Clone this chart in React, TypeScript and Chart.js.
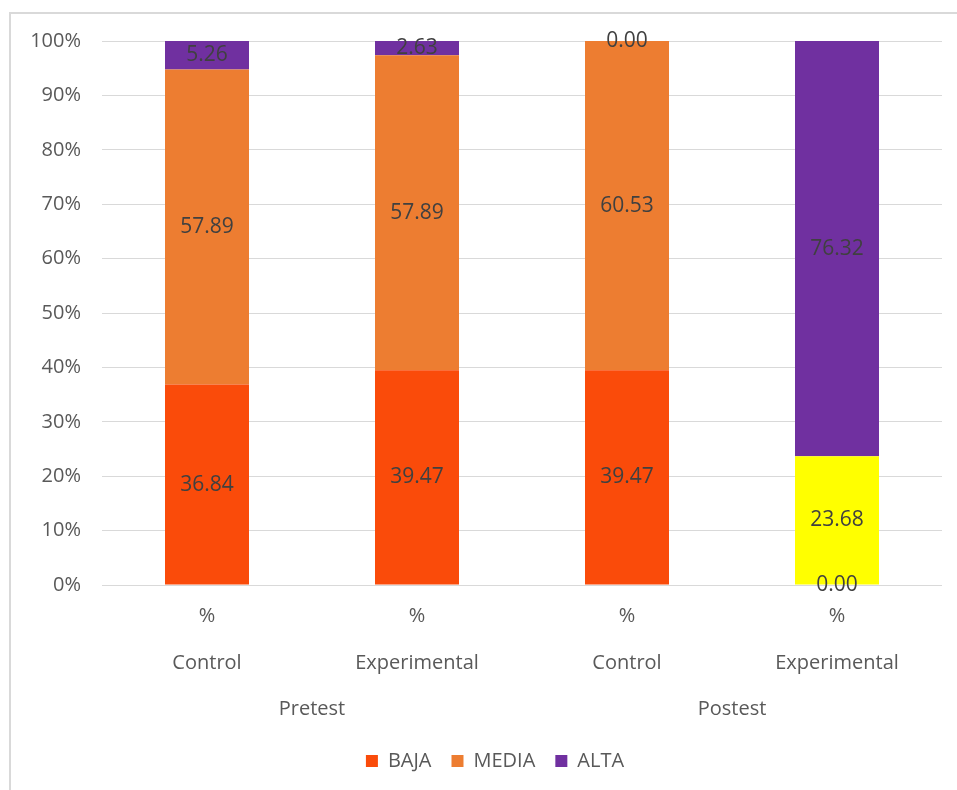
import React, { useEffect, useRef } from "react";
import { Chart, registerables } from "chart.js";

Chart.register(...registerables);

const categories = ["Control", "Experimental", "Control", "Experimental"];
const unitLabels = ["%", "%", "%", "%"];
const groups = ["Pretest", "Postest"];
const seriesNames = ["BAJA", "MEDIA", "ALTA"];
const baja = [36.84, 39.47, 39.47, 0.0];
const media = [57.89, 57.89, 60.53, 23.68];
const alta = [5.26, 2.63, 0.0, 76.32];
const yTicks = [0, 10, 20, 30, 40, 50, 60, 70, 80, 90, 100];

const FONT = "'Open Sans', 'Liberation Sans', sans-serif";
const TEXT = "#595959";

export default function App() {
  const ref = useRef<HTMLCanvasElement | null>(null);

  useEffect(() => {
    if (!ref.current) return;
    const totals = categories.map((_, i) => baja[i] + media[i] + alta[i]);
    const pct = (arr: number[]) => arr.map((v, i) => (v / totals[i]) * 100);
    const raw = [baja, media, alta];

    const dataLabels = {
      id: "dataLabels",
      afterDatasetsDraw(chart: any) {
        const ctx = chart.ctx;
        ctx.save();
        ctx.font = `21px ${FONT}`;
        ctx.fillStyle = "#404040";
        ctx.textAlign = "center";
        ctx.textBaseline = "middle";
        chart.data.datasets.forEach((ds: any, di: number) => {
          const meta = chart.getDatasetMeta(di);
          meta.data.forEach((el: any, i: number) => {
            const y = (el.y + el.base) / 2;
            ctx.fillText(raw[di][i].toFixed(2), el.x, y);
          });
        });
        ctx.restore();
      },
    };

    const axisLabels = {
      id: "axisLabels",
      afterDraw(chart: any) {
        const ctx = chart.ctx;
        const xs = chart.scales.x;
        const ys = chart.scales.y;
        const { bottom, left } = chart.chartArea;
        ctx.save();
        ctx.font = `20px ${FONT}`;
        ctx.fillStyle = TEXT;
        ctx.textBaseline = "middle";
        ctx.textAlign = "right";
        yTicks.forEach((v) => {
          ctx.fillText(`${v}%`, left - 21, ys.getPixelForValue(v));
        });
        ctx.textAlign = "center";
        categories.forEach((c, i) => {
          const x = xs.getPixelForTick(i);
          ctx.fillText(unitLabels[i], x, bottom + 31);
          ctx.fillText(c, x, bottom + 78);
        });
        groups.forEach((g, gi) => {
          const x = (xs.getPixelForTick(gi * 2) + xs.getPixelForTick(gi * 2 + 1)) / 2;
          ctx.fillText(g, x, bottom + 124);
        });
        ctx.restore();
      },
    };

    const chart = new Chart(ref.current, {
      type: "bar",
      data: {
        labels: categories.map((c, i) => `${unitLabels[i]} ${c}`),
        datasets: [
          { label: seriesNames[0], data: pct(baja), backgroundColor: "#FA4B0A", borderWidth: 0 },
          {
            label: seriesNames[1],
            data: pct(media),
            backgroundColor: (c: any) => (c.dataIndex === 3 ? "#FFFF00" : "#ED7D31"),
            borderWidth: 0,
          },
          { label: seriesNames[2], data: pct(alta), backgroundColor: "#7030A0", borderWidth: 0 },
        ],
      },
      options: {
        animation: false,
        responsive: false,
        devicePixelRatio: 1,
        datasets: { bar: { barPercentage: 0.4, categoryPercentage: 1 } },
        layout: { padding: { left: 48, right: 15, top: 41, bottom: 9 } },
        scales: {
          x: {
            stacked: true,
            grid: { display: false },
            border: { display: false },
            ticks: { display: false },
            afterFit: (s: any) => {
              s.height = 146;
            },
          },
          y: {
            stacked: true,
            min: 0,
            max: 100,
            afterBuildTicks: (s: any) => {
              s.ticks = yTicks.map((v) => ({ value: v }));
            },
            ticks: { display: false },
            grid: { color: "#D9D9D9", lineWidth: 1, drawTicks: false },
            border: { display: false },
            afterFit: (s: any) => {
              s.width = 54;
            },
          },
        },
        plugins: {
          legend: {
            position: "bottom",
            labels: {
              boxWidth: 12,
              boxHeight: 12,
              padding: 20,
              color: TEXT,
              font: { family: FONT, size: 20 },
            },
          },
          tooltip: { enabled: false },
        },
      },
      plugins: [dataLabels, axisLabels],
    });
    return () => chart.destroy();
  }, []);

  return (
    <div style={{ position: "absolute", left: 0, top: 0, width: 957, height: 790, background: "#fff", overflow: "hidden" }}>
      <div
        style={{
          position: "absolute",
          left: 9,
          top: 12,
          width: 1000,
          height: 1000,
          borderLeft: "2px solid #D9D9D9",
          borderTop: "2px solid #D9D9D9",
        }}
      />
      <canvas ref={ref} width={957} height={790} style={{ position: "absolute", left: 0, top: 0 }} />
    </div>
  );
}
